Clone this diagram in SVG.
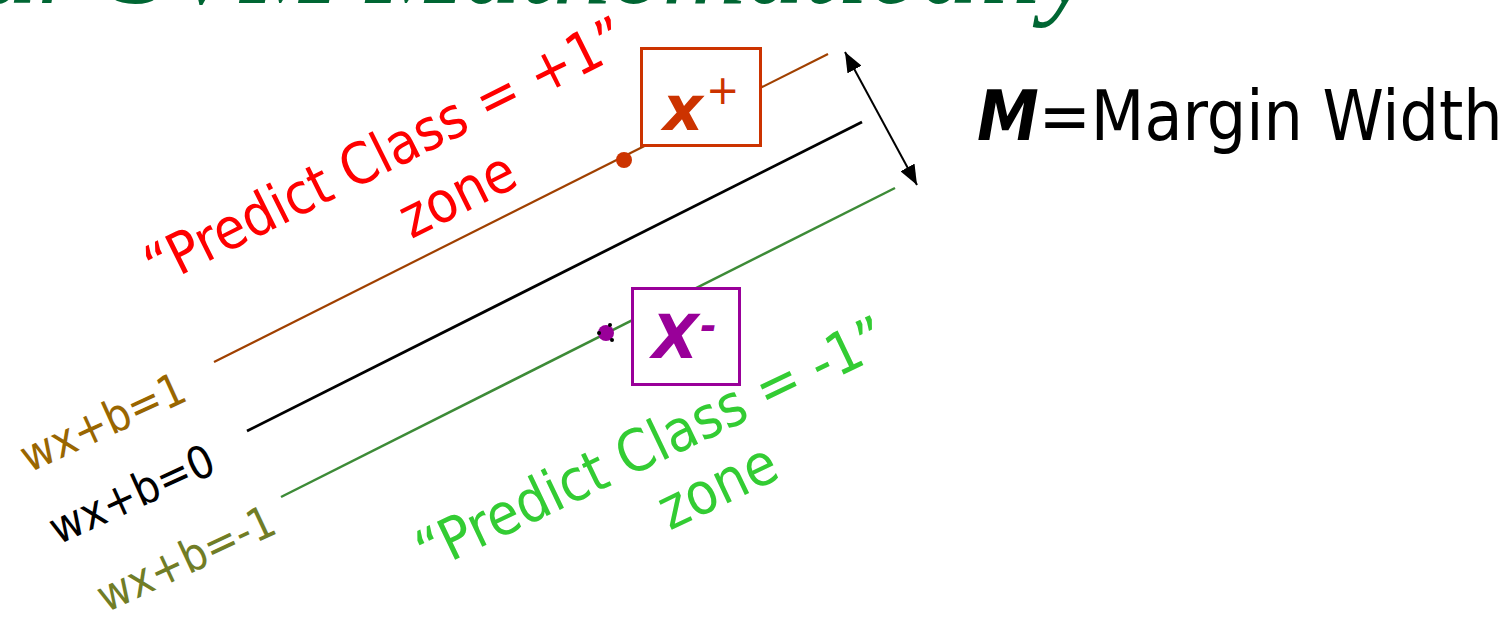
<svg xmlns="http://www.w3.org/2000/svg" width="1511" height="621" viewBox="0 0 1511 621">
<style>
.t{font-family:"DejaVu Sans Condensed","DejaVu Sans",sans-serif;font-stretch:condensed}
.v{font-family:"DejaVu Sans",sans-serif;font-weight:bold;font-style:italic}
.title{font-family:"Liberation Serif",serif;font-style:italic;fill:#006633}
</style>
<defs>
<marker id="ah" viewBox="0 0 10 8" refX="10" refY="4" markerWidth="10" markerHeight="8" markerUnits="strokeWidth" orient="auto-start-reverse">
<path d="M0,0 L10,4 L0,8 z" fill="#000"/>
</marker>
</defs>
<rect width="1511" height="621" fill="#fff"/>
<g id="title"><text class="title" x="1094" y="3" font-size="116" text-anchor="end">Linear SVM Mathematically</text></g>
<g id="connectors">
<line x1="214" y1="362" x2="828" y2="54" stroke="#A04000" stroke-width="2.2"/>
<line x1="247" y1="431" x2="862" y2="122" stroke="#000" stroke-width="2.8"/>
<line x1="281" y1="497" x2="895" y2="188" stroke="#3D8B37" stroke-width="2.5"/>
<line x1="845" y1="52" x2="917" y2="185" stroke="#000" stroke-width="2" marker-start="url(#ah)" marker-end="url(#ah)"/>
</g>
<g id="label-plus1"><text class="t" transform="translate(29,473) rotate(-24.5)" font-size="45" fill="#996600">wx+b=1</text></g>
<g id="label-zero"><text class="t" transform="translate(58,545) rotate(-24.5)" font-size="45" fill="#000">wx+b=0</text></g>
<g id="label-minus1"><text class="t" transform="translate(106,613) rotate(-25)" font-size="45" fill="#717D26">wx+b=-1</text></g>
<g id="zone-plus">
<text class="t" transform="translate(394,169) rotate(-26.5)" font-size="57" fill="#FF0000" text-anchor="middle">“Predict Class = +1”</text>
<text class="t" transform="translate(466,212) rotate(-26.5)" font-size="57" fill="#FF0000" text-anchor="middle">zone</text>
</g>
<g id="zone-minus">
<text class="t" transform="translate(660,462) rotate(-25.5)" font-size="58" fill="#33CC33" text-anchor="middle">“Predict Class = -1”</text>
<text class="t" transform="translate(726,504) rotate(-25.5)" font-size="58" fill="#33CC33" text-anchor="middle">zone</text>
</g>
<g id="xplus">
<circle cx="624" cy="160" r="8" fill="#CC3300"/>
<rect x="641.5" y="48.5" width="119" height="97" fill="#fff" stroke="#CC3300" stroke-width="3"/>
<text class="v" x="663" y="130" font-size="62" fill="#CC3300">x<tspan dx="3" dy="-26" font-size="40" font-weight="normal">+</tspan></text>
</g>
<g id="xminus">
<circle cx="606" cy="333" r="8" fill="#990099"/>
<circle cx="610" cy="325" r="2" fill="#000"/>
<circle cx="599" cy="333" r="2" fill="#000"/>
<circle cx="612" cy="340" r="2" fill="#000"/>
<rect x="632.5" y="288.5" width="107" height="96" fill="#fff" stroke="#990099" stroke-width="3"/>
<text class="v" x="652" y="358" font-size="60" fill="#990099">X<tspan dx="2" dy="-18" font-size="40">-</tspan></text>
</g>
<g id="margin">
<text class="t" x="977" y="140" font-size="69" fill="#000"><tspan font-weight="bold" font-style="italic">M</tspan>=Margin Width</text>
</g>
</svg>
